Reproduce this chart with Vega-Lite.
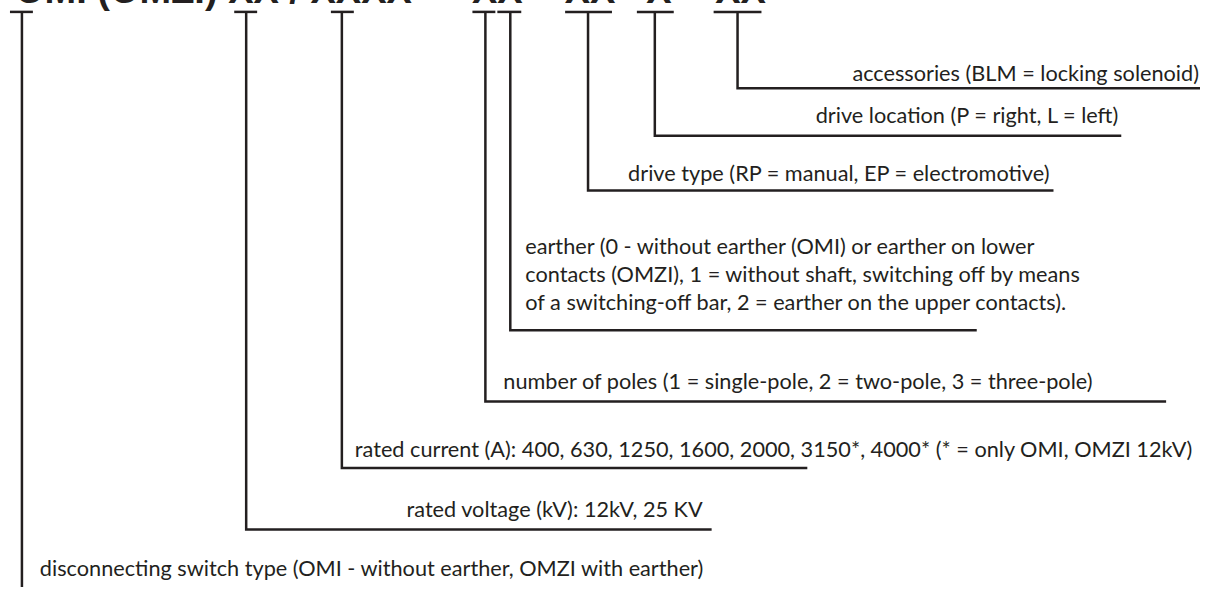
{
  "$schema": "https://vega.github.io/schema/vega-lite/v6.json",
  "width": 1205,
  "height": 592,
  "padding": 0,
  "autosize": {"type": "fit", "contains": "padding"},
  "background": "white",
  "config": {"view": {"stroke": null}},
  "datasets": {
    "caps": [
      {"x1": 10, "x2": 33, "y": 12},
      {"x1": 235, "x2": 258, "y": 12},
      {"x1": 332, "x2": 355, "y": 12},
      {"x1": 474, "x2": 497, "y": 12},
      {"x1": 499, "x2": 523, "y": 12},
      {"x1": 567, "x2": 614, "y": 12},
      {"x1": 639, "x2": 676, "y": 12},
      {"x1": 716, "x2": 764, "y": 12}
    ],
    "leaders": [
      {"id": "type", "o": 1, "x": 22, "y": 12},
      {"id": "type", "o": 2, "x": 22, "y": 592},
      {"id": "voltage", "o": 1, "x": 247, "y": 12},
      {"id": "voltage", "o": 2, "x": 247, "y": 534},
      {"id": "voltage", "o": 3, "x": 714, "y": 534},
      {"id": "current", "o": 1, "x": 343, "y": 12},
      {"id": "current", "o": 2, "x": 343, "y": 472},
      {"id": "current", "o": 3, "x": 810, "y": 472},
      {"id": "poles", "o": 1, "x": 487, "y": 12},
      {"id": "poles", "o": 2, "x": 487, "y": 405},
      {"id": "poles", "o": 3, "x": 1170, "y": 405},
      {"id": "earther", "o": 1, "x": 512, "y": 12},
      {"id": "earther", "o": 2, "x": 512, "y": 333},
      {"id": "earther", "o": 3, "x": 980, "y": 333},
      {"id": "drivetype", "o": 1, "x": 590, "y": 12},
      {"id": "drivetype", "o": 2, "x": 590, "y": 192},
      {"id": "drivetype", "o": 3, "x": 1057, "y": 192},
      {"id": "driveloc", "o": 1, "x": 657, "y": 12},
      {"id": "driveloc", "o": 2, "x": 657, "y": 137},
      {"id": "driveloc", "o": 3, "x": 1125, "y": 137},
      {"id": "acc", "o": 1, "x": 740, "y": 12},
      {"id": "acc", "o": 2, "x": 740, "y": 89},
      {"id": "acc", "o": 3, "x": 1204, "y": 89}
    ],
    "labels": [
      {"side": "right", "x": 1203, "y": 82, "text": "accessories (BLM = locking solenoid)"},
      {"side": "right", "x": 1122, "y": 124, "text": "drive location (P = right, L = left)"},
      {"side": "right", "x": 1053, "y": 183, "text": "drive type (RP = manual, EP = electromotive)"},
      {"side": "left", "x": 527, "y": 256, "text": "earther (0 - without earther (OMI) or earther on lower"},
      {"side": "left", "x": 527, "y": 284.5, "text": "contacts (OMZI), 1 = without shaft, switching off by means"},
      {"side": "left", "x": 527, "y": 313, "text": "of a switching-off bar, 2 = earther on the upper contacts)."},
      {"side": "left", "x": 505, "y": 392, "text": "number of poles (1 = single-pole, 2 = two-pole, 3 = three-pole)"},
      {"side": "left", "x": 356, "y": 461, "text": "rated current (A): 400, 630, 1250, 1600, 2000, 3150*, 4000* (* = only OMI, OMZI 12kV)"},
      {"side": "right", "x": 705, "y": 521, "text": "rated voltage (kV): 12kV, 25 KV"},
      {"side": "left", "x": 40, "y": 581, "text": "disconnecting switch type (OMI - without earther, OMZI with earther)"}
    ],
    "title": [
      {"side": "left", "x": 15, "y": 3, "text": "OMI (OMZI) XX / XXXX"},
      {"side": "center", "x": 460, "y": 3, "text": "-"},
      {"side": "center", "x": 499, "y": 3, "text": "XX"},
      {"side": "center", "x": 546, "y": 3, "text": "-"},
      {"side": "center", "x": 592, "y": 3, "text": "XX"},
      {"side": "center", "x": 628, "y": 3, "text": "-"},
      {"side": "center", "x": 661, "y": 3, "text": "X"},
      {"side": "center", "x": 700, "y": 3, "text": "-"},
      {"side": "center", "x": 743, "y": 3, "text": "XX"}
    ]
  },
  "layer": [
    {
      "data": {"name": "caps"},
      "mark": {"type": "rule", "stroke": "#231f20", "strokeWidth": 2.5, "strokeCap": "butt"},
      "encoding": {
        "x": {"field": "x1", "type": "quantitative", "scale": {"domain": [0, 1205], "nice": false, "zero": false}, "axis": null},
        "x2": {"field": "x2"},
        "y": {"field": "y", "type": "quantitative", "scale": {"domain": [0, 592], "nice": false, "zero": false, "reverse": true}, "axis": null}
      }
    },
    {
      "data": {"name": "leaders"},
      "mark": {"type": "line", "stroke": "#231f20", "strokeWidth": 2.5, "strokeCap": "butt", "strokeJoin": "miter"},
      "encoding": {
        "x": {"field": "x", "type": "quantitative"},
        "y": {"field": "y", "type": "quantitative"},
        "detail": {"field": "id", "type": "nominal"},
        "order": {"field": "o", "type": "quantitative"}
      }
    },
    {
      "data": {"name": "labels"},
      "transform": [{"filter": "datum.side === 'left'"}],
      "mark": {"type": "text", "align": "left", "baseline": "alphabetic", "font": "Lato", "fontSize": 21.7, "fill": "#231f20"},
      "encoding": {
        "x": {"field": "x", "type": "quantitative"},
        "y": {"field": "y", "type": "quantitative"},
        "text": {"field": "text", "type": "nominal"}
      }
    },
    {
      "data": {"name": "labels"},
      "transform": [{"filter": "datum.side === 'right'"}],
      "mark": {"type": "text", "align": "right", "baseline": "alphabetic", "font": "Lato", "fontSize": 21.7, "fill": "#231f20"},
      "encoding": {
        "x": {"field": "x", "type": "quantitative"},
        "y": {"field": "y", "type": "quantitative"},
        "text": {"field": "text", "type": "nominal"}
      }
    },
    {
      "data": {"name": "title"},
      "transform": [{"filter": "datum.side === 'left'"}],
      "mark": {"type": "text", "align": "left", "baseline": "alphabetic", "font": "Liberation Sans", "fontWeight": "bold", "fontSize": 38, "fill": "#231f20", "clip": true},
      "encoding": {
        "x": {"field": "x", "type": "quantitative"},
        "y": {"field": "y", "type": "quantitative"},
        "text": {"field": "text", "type": "nominal"}
      }
    },
    {
      "data": {"name": "title"},
      "transform": [{"filter": "datum.side === 'center'"}],
      "mark": {"type": "text", "align": "center", "baseline": "alphabetic", "font": "Liberation Sans", "fontWeight": "bold", "fontSize": 38, "fill": "#231f20", "clip": true},
      "encoding": {
        "x": {"field": "x", "type": "quantitative"},
        "y": {"field": "y", "type": "quantitative"},
        "text": {"field": "text", "type": "nominal"}
      }
    }
  ]
}
